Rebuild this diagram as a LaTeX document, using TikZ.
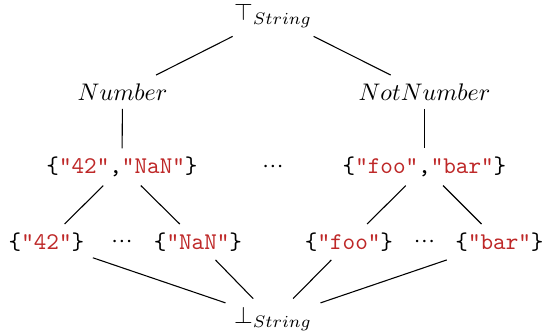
\documentclass[tikz,border=0pt]{standalone}
\usepackage{fontspec}
\definecolor{strred}{RGB}{190,40,40}
\newcommand{\sv}[1]{\textcolor{strred}{"#1"}}
\newcommand{\mydots}{${\cdot}\mkern0.5mu{\cdot}\mkern0.5mu{\cdot}$}
\begin{document}
\begin{tikzpicture}[x=0.417pt,y=-0.417pt,
  lat/.style={inner sep=3.4pt},
  edge/.style={draw,line width=0.45pt}]
\useasboundingbox (0,0) rectangle (543,332);
\node[lat] (top) at (273,16) {$\top_{String}$};
\node[lat] (num) at (122.5,92) {$Number$};
\node[lat] (nnum) at (424.5,92) {$NotNumber$};
\node[lat] (s1) at (122,167) {\texttt{\{\sv{42},\sv{NaN}\}}};
\node[lat] (d0) at (273,167) {\mydots};
\node[lat] (s2) at (424.5,167) {\texttt{\{\sv{foo},\sv{bar}\}}};
\node[lat] (a) at (46.5,242) {\texttt{\{\sv{42}\}}};
\node[lat] (d1) at (122,242) {\mydots};
\node[lat] (b) at (198,242) {\texttt{\{\sv{NaN}\}}};
\node[lat] (c) at (349,242) {\texttt{\{\sv{foo}\}}};
\node[lat] (d2) at (424.5,242) {\mydots};
\node[lat] (d) at (499.5,242) {\texttt{\{\sv{bar}\}}};
\node[lat] (bot) at (273,319) {$\bot_{String}$};
\draw[edge] (top) -- (num);
\draw[edge] (top) -- (nnum);
\draw[edge] (num) -- (s1);
\draw[edge] (nnum) -- (s2);
\draw[edge] (s1) -- (a);
\draw[edge] (s1) -- (b);
\draw[edge] (s2) -- (c);
\draw[edge] (s2) -- (d);
\draw[edge] (a) -- (bot);
\draw[edge] (b) -- (bot);
\draw[edge] (c) -- (bot);
\draw[edge] (d) -- (bot);
\end{tikzpicture}
\end{document}
